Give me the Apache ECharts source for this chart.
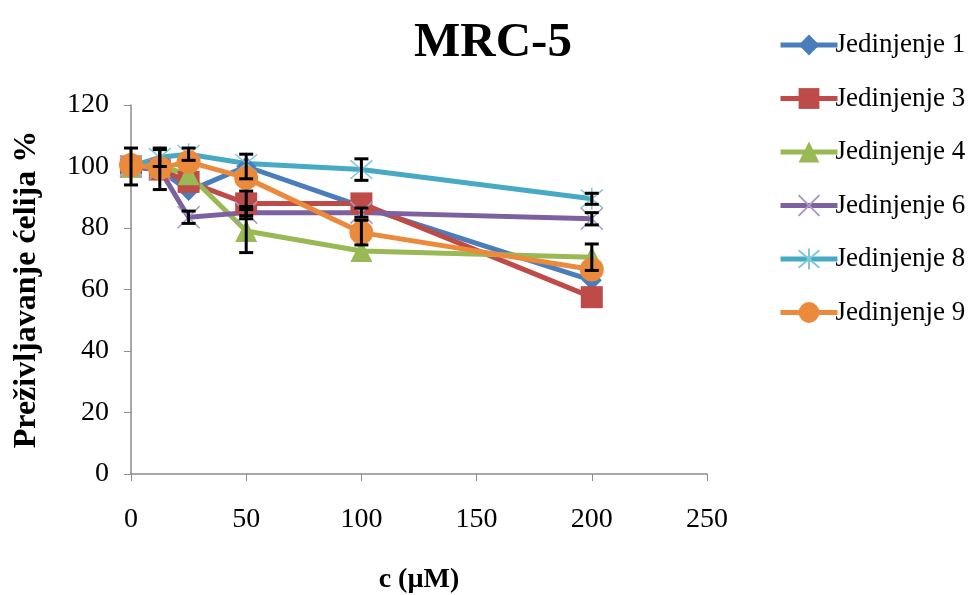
<!DOCTYPE html>
<html><head><meta charset="utf-8">
<script src="https://cdn.jsdelivr.net/npm/echarts@6/dist/echarts.min.js"></script>
<style>html,body{margin:0;padding:0;background:#fff}#c{width:977px;height:595px}</style>
</head><body><div id="c"></div>
<script>
const conc = [0, 12.5, 25, 50, 100, 200];
const seriesNames = ['Jedinjenje 1','Jedinjenje 3','Jedinjenje 4','Jedinjenje 6','Jedinjenje 8','Jedinjenje 9'];
const j1 = [100, 99, 92, 100, 87, 63];
const j3 = [100, 99, 95, 88, 88, 57.5];
const j4 = [100, 100, 97.5, 79, 72.5, 70.5];
const j6 = [100, 99, 83.5, 85, 85, 83];
const j8 = [100, 103, 104, 101, 99, 89.5];
const j9 = [100.5, 99.5, 101.5, 96.3, 78.5, 66.5];
const e1 = [6, 6.5, 0, 4, 0, 0];
const e3 = [0, 0, 0, 4, 0, 0];
const e4 = [0, 0, 0, 7, 0, 4.3];
const e6 = [0, 0, 2, 2, 1.5, 2];
const e8 = [0, 3, 2, 0, 3.5, 1.8];
const e9 = [0, 0, 0, 0, 4, 0];
const xTicks = [0, 50, 100, 150, 200, 250];
const yTicks = [0, 20, 40, 60, 80, 100, 120];

const values = [j1, j3, j4, j6, j8, j9];
const errs = [e1, e3, e4, e6, e8, e9];
const colors = ['#4A7EBB', '#BE4B48', '#98B954', '#7D60A0', '#46AAC5', '#EC8A3C'];
const FONT = '"Liberation Serif", "Times New Roman", serif';
const xPath = 'path://M0,0 L10,10 M10,0 L0,10';
const starPath = 'path://M0,0 L10,10 M10,0 L0,10 M5,-1 L5,11';
const symbols = ['diamond', 'rect', 'triangle', xPath, starPath, 'circle'];
const symSizes = [20, 22, 22, 22, 22, 24];

const series = values.map((v, i) => {
  const isPath = i === 3 || i === 4;
  return {
    name: seriesNames[i],
    type: 'line',
    data: v.map((y, k) => [conc[k], y]),
    symbol: symbols[i],
    symbolSize: symSizes[i],
    showAllSymbol: true,
    lineStyle: { color: colors[i], width: 5 },
    itemStyle: isPath
      ? { color: 'rgba(0,0,0,0)', borderColor: i === 3 ? '#A898C8' : '#7FC8DC', borderWidth: 1.5 }
      : { color: colors[i], borderWidth: 0 },
    emphasis: { disabled: true },
    z: 2
  };
});

const errData = [];
values.forEach((v, i) => v.forEach((y, k) => { if (errs[i][k] > 0) errData.push([conc[k], y, errs[i][k]]); }));
series.push({
  type: 'custom',
  z: 5,
  silent: true,
  data: errData,
  renderItem: (params, api) => {
    const x = api.value(0), y = api.value(1), e = api.value(2);
    const top = api.coord([x, y + e]);
    const bot = api.coord([x, y - e]);
    const w = 7;
    const st = { stroke: '#000', lineWidth: 3 };
    return { type: 'group', children: [
      { type: 'line', shape: { x1: top[0], y1: top[1], x2: bot[0], y2: bot[1] }, style: st },
      { type: 'line', shape: { x1: top[0] - w, y1: top[1], x2: top[0] + w, y2: top[1] }, style: st },
      { type: 'line', shape: { x1: bot[0] - w, y1: bot[1], x2: bot[0] + w, y2: bot[1] }, style: st }
    ]};
  }
});

const chart = echarts.init(document.getElementById('c'));
chart.setOption({
  animation: false,
  backgroundColor: '#fff',
  title: {
    text: 'MRC-5', left: 488, top: 14, textAlign: 'center',
    textStyle: { fontFamily: FONT, fontWeight: 'bold', fontSize: 49, color: '#000' }
  },
  legend: {
    orient: 'vertical', left: 773, top: 26,
    itemWidth: 57, itemHeight: 26, itemGap: 25.5,
    data: seriesNames,
    lineStyle: { width: 5 },
    textStyle: { fontFamily: FONT, fontSize: 27, lineHeight: 28, color: '#000', padding: [0, 0, 0, -7] }
  },
  grid: { left: 131, right: 270, top: 105, bottom: 121, containLabel: false, outerBoundsMode: 'none' },
  xAxis: {
    type: 'value', min: xTicks[0], max: xTicks[xTicks.length - 1], interval: 50,
    name: 'c (µM)', nameLocation: 'middle', nameGap: 92,
    nameTextStyle: { fontFamily: FONT, fontWeight: 'bold', fontSize: 28, color: '#000' },
    axisLine: { lineStyle: { color: '#8c8c8c', width: 1.5 } },
    axisTick: { show: true, inside: false, length: 7, lineStyle: { color: '#8c8c8c' } },
    axisLabel: { fontFamily: FONT, fontSize: 28, color: '#000', margin: 32 },
    splitLine: { show: false }
  },
  yAxis: {
    type: 'value', min: yTicks[0], max: yTicks[yTicks.length - 1], interval: 20,
    name: 'Preživljavanje ćelija %', nameLocation: 'middle', nameGap: 88, nameRotate: 90,
    nameTextStyle: { fontFamily: FONT, fontWeight: 'bold', fontSize: 32, color: '#000' },
    axisLine: { show: true, lineStyle: { color: '#8c8c8c', width: 1.5 } },
    axisTick: { show: true, inside: false, length: 7, lineStyle: { color: '#8c8c8c' } },
    axisLabel: { fontFamily: FONT, fontSize: 28, color: '#000', margin: 22 },
    splitLine: { show: false }
  },
  series: series
});
</script></body></html>
